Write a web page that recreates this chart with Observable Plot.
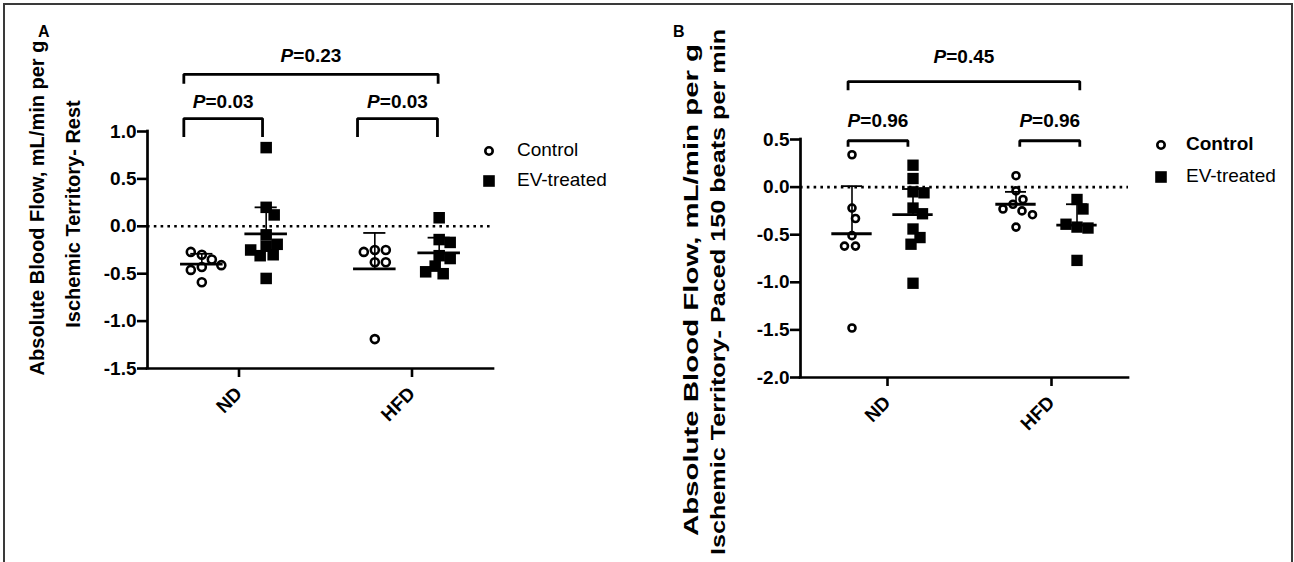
<!DOCTYPE html>
<html><head><meta charset="utf-8">
<script src="https://cdn.jsdelivr.net/npm/d3@7"></script>
<script src="https://cdn.jsdelivr.net/npm/@observablehq/plot@0.6"></script>
<style>
html,body{margin:0;padding:0;background:#fff;}
#root{position:relative;width:1294px;height:562px;overflow:hidden;font-family:"Liberation Sans",Arial,sans-serif;color:#000;}
#frame{position:absolute;left:3px;top:3px;width:1290px;height:600px;border:2px solid #3a3a3a;box-sizing:border-box;}
.panel{position:absolute;top:0;}
.ytitle{position:absolute;white-space:nowrap;font-weight:bold;font-size:20px;line-height:22px;}
.plabel{position:absolute;font-weight:bold;font-size:16px;}
.legtext{position:absolute;font-size:19px;line-height:22px;white-space:nowrap;}
.legsym{position:absolute;}
</style></head><body><div id="root"><div id="frame"></div></div>
<script>
// ---------- data ----------
const diets = ["ND", "HFD"];
const treatments = ["Control", "EV-treated"];

// Panel A: Ischemic territory, rest
const restControlND  = [-0.30, -0.35, -0.27, -0.43, -0.46, -0.41, -0.59];
const restEVND       = [0.83, 0.20, 0.12, -0.09, -0.21, -0.19, -0.30, -0.31, -0.55, -0.25];
const restControlHFD = [-0.25, -0.38, -0.38, -0.27, -0.25, -1.19];
const restEVHFD      = [0.09, -0.14, -0.17, -0.31, -0.34, -0.42, -0.50, -0.48];
const restMean = [-0.40, -0.08, -0.45, -0.28];   // ND-Control, ND-EV, HFD-Control, HFD-EV
const restSD   = [0.11, 0.28, 0.38, 0.16];
const restP    = ["0.03", "0.03", "0.23"];       // ND, HFD, Control ND vs EV HFD
const yTicksA  = [-1.5, -1.0, -0.5, 0, 0.5, 1.0];

// Panel B: Ischemic territory, paced 150 beats per min
const pacedControlND  = [0.34, -0.22, -0.33, -0.51, -0.62, -0.62, -1.48];
const pacedEVND       = [0.23, 0.09, -0.05, -0.06, -0.22, -0.28, -0.44, -0.53, -0.60, -1.01];
const pacedControlHFD = [0.12, -0.04, -0.13, -0.18, -0.25, -0.23, -0.29, -0.42];
const pacedEVHFD      = [-0.13, -0.23, -0.42, -0.43, -0.39, -0.77];
const pacedMean = [-0.49, -0.29, -0.18, -0.40];
const pacedSD   = [0.50, 0.27, 0.13, 0.22];
const pacedP    = ["0.96", "0.96", "0.45"];
const yTicksB   = [-2.0, -1.5, -1.0, -0.5, 0, 0.5];

const titleA = ["Absolute Blood Flow, mL/min per g", "Ischemic Territory- Rest"];
const titleB = ["Absolute Blood Flow, mL/min per g", "Ischemic Territory- Paced 150 beats per min"];

// ---------- layout ----------
const tOffset = {"Control": -0.186, "EV-treated": 0.186};
const panels = [
  {id: "A", left: 0, width: 560, height: 470, ml: 147, mr: 67, mt: 131, mb: 102,
   yDomain: [-1.5, 1.0], yTicks: yTicksA,
   values: [[restControlND, restEVND], [restControlHFD, restEVHFD]],
   mean: restMean, sd: restSD, p: restP, cr: 4.0, sr: 6.5,
   br: {nd: [-0.29, 0.165], hfd: [0.714, 1.176], all: [-0.29, 1.18],
        inY: 1.136, inLeg: 0.942, inText: 1.315, outY: 1.603, outLeg: 1.505, outText: 1.80}},
  {id: "B", left: 640, width: 654, height: 470, ml: 160, mr: 166, mt: 139, mb: 93,
   yDomain: [-2.0, 0.5], yTicks: yTicksB,
   values: [[pacedControlND, pacedEVND], [pacedControlHFD, pacedEVHFD]],
   mean: pacedMean, sd: pacedSD, p: pacedP, cr: 3.5, sr: 6.4,
   br: {nd: [-0.21, 0.155], hfd: [0.837, 1.203], all: [-0.21, 1.203],
        inY: 0.487, inLeg: 0.424, inText: 0.693, outY: 1.108, outLeg: 1.018, outText: 1.37}}
];

// deterministic beeswarm (pixel space) so that the points spread like the reference
function swarm(values, kx, ky, D) {
  const placed = [];
  return values.map(v => {
    const yp = v * ky;
    let off = 0;
    for (let i = 0; i < 400; i++) {
      const cands = i === 0 ? [0] : [i * 0.5, -i * 0.5];
      let found = null;
      for (const s of cands) {
        if (placed.every(p => Math.hypot(p.x - s, p.y - yp) >= D)) { found = s; break; }
      }
      if (found !== null) { off = found; break; }
    }
    placed.push({x: off, y: yp});
    return off / kx;
  });
}

const root = document.getElementById("root");

for (const P of panels) {
  const kx = (P.width - P.ml - P.mr) / 2;
  const ky = (P.height - P.mt - P.mb) / (P.yDomain[1] - P.yDomain[0]);
  const points = [];
  const stats = [];
  diets.forEach((d, di) => {
    treatments.forEach((t, ti) => {
      const vals = P.values[di][ti];
      const offs = swarm(vals, kx, ky, 11);
      const pos = di + tOffset[t];
      vals.forEach((v, k) => points.push({diet: d, treatment: t, value: v, x: pos + offs[k]}));
      const gi = di * 2 + ti;
      stats.push({diet: d, treatment: t, pos, mean: P.mean[gi], top: P.mean[gi] + P.sd[gi]});
    });
  });
  const b = P.br;
  const brackets = [
    {id: "nd", x1: b.nd[0], x2: b.nd[1], y: b.inY, leg: b.inLeg, t: b.inText, p: P.p[0]},
    {id: "hfd", x1: b.hfd[0], x2: b.hfd[1], y: b.inY, leg: b.inLeg, t: b.inText, p: P.p[1]},
    {id: "all", x1: b.all[0], x2: b.all[1], y: b.outY, leg: b.outLeg, t: b.outText, p: P.p[2]}
  ];
  const brPts = brackets.flatMap(r => [
    {id: r.id, x: r.x1, y: r.leg}, {id: r.id, x: r.x1, y: r.y},
    {id: r.id, x: r.x2, y: r.y}, {id: r.id, x: r.x2, y: r.leg}]);

  const hw = 0.123, cw = 0.064;
  const chart = Plot.plot({
    width: P.width, height: P.height,
    marginLeft: P.ml, marginRight: P.mr, marginTop: P.mt, marginBottom: P.mb,
    x: {domain: [-0.5, 1.5]},
    y: {domain: P.yDomain},
    style: {fontFamily: "'Liberation Sans', Arial, sans-serif", fontSize: "19px", fontWeight: "bold", color: "#000", background: "transparent", overflow: "visible"},
    marks: [
      Plot.ruleY([0], {x1: -0.5, x2: 1.5, stroke: "#000", strokeWidth: 2.6, strokeDasharray: "2.6,4.2"}),
      Plot.axisY({ticks: P.yTicks, tickFormat: d => d.toFixed(1), tickSize: 10, tickPadding: 1, strokeWidth: 2.6, label: null, fontSize: 19, fontWeight: "bold"}),
      Plot.axisX({ticks: [0, 1], tickFormat: i => diets[i], tickSize: 9, tickPadding: 13, tickRotate: -45, strokeWidth: 2.6, label: null, fontSize: 19, fontWeight: "bold", dx: 5}),
      Plot.ruleX([-0.5], {y1: P.yDomain[0], y2: P.yDomain[1], stroke: "#000", strokeWidth: 2.7, strokeLinecap: "square"}),
      Plot.ruleY([P.yDomain[0]], {x1: -0.5, x2: 1.5, stroke: "#000", strokeWidth: 2.7, strokeLinecap: "square"}),
      Plot.dot(points.filter(d => d.treatment === "Control"), {x: "x", y: "value", r: P.cr, fill: "#fff", stroke: "#000", strokeWidth: 2.6}),
      Plot.dot(points.filter(d => d.treatment === "EV-treated"), {x: "x", y: "value", r: P.sr, symbol: "square", fill: "#000", stroke: "none"}),
      Plot.ruleX(stats, {x: "pos", y1: "mean", y2: "top", stroke: "#000", strokeWidth: 1.6}),
      Plot.ruleY(stats, {y: "top", x1: d => d.pos - cw, x2: d => d.pos + cw, stroke: "#000", strokeWidth: 1.8}),
      Plot.ruleY(stats, {y: "mean", x1: d => d.pos - hw, x2: d => d.pos + hw, stroke: "#000", strokeWidth: 2.8}),
      Plot.line(brPts, {x: "x", y: "y", z: "id", stroke: "#000", strokeWidth: 2.8, strokeLinejoin: "miter", strokeLinecap: "butt"}),
      Plot.text(brackets, {x: d => (d.x1 + d.x2) / 2, y: "t", text: d => "P=" + d.p, fontSize: 19, fontWeight: "bold", fill: "#000"})
    ]
  });
  // italic "P" in p-value labels
  const ns = "http://www.w3.org/2000/svg";
  chart.querySelectorAll("text").forEach(t => {
    const s = t.textContent;
    if (s.startsWith("P=") && t.children.length === 0) {
      t.textContent = "";
      const a = document.createElementNS(ns, "tspan");
      a.setAttribute("font-style", "italic");
      a.textContent = "P";
      t.appendChild(a);
      t.appendChild(document.createTextNode(s.slice(1)));
    }
  });
  const wrap = document.createElement("div");
  wrap.className = "panel";
  wrap.style.left = P.left + "px";
  wrap.appendChild(chart);
  root.appendChild(wrap);
}

// ---------- panel letters, axis titles, legends ----------
function addText(cls, txt, css) {
  const el = document.createElement("div");
  el.className = cls;
  el.textContent = txt;
  Object.assign(el.style, css);
  root.appendChild(el);
  return el;
}
addText("plabel", "A", {left: "38px", top: "23px"});
addText("plabel", "B", {left: "673px", top: "23px"});

function yTitle(txt, cx, cy, stretch) {
  addText("ytitle", txt, {left: cx + "px", top: cy + "px",
    transform: `translate(-50%,-50%) rotate(-90deg) scaleX(${stretch})`});
}
yTitle(titleA[0], 37, 208, 1.0);
yTitle(titleA[1], 73, 214, 1.0);
yTitle(titleB[0], 691, 290, 1.47);
yTitle(titleB[1], 718, 292, 1.26);

function legend(x, yc, ys, tx, boldControl) {
  const s1 = document.createElementNS("http://www.w3.org/2000/svg", "svg");
  s1.setAttribute("width", 16); s1.setAttribute("height", 16);
  s1.setAttribute("class", "legsym");
  s1.style.left = (x - 8) + "px"; s1.style.top = (yc - 8) + "px";
  s1.innerHTML = '<circle cx="8" cy="8" r="3.7" fill="#fff" stroke="#000" stroke-width="2.6"/>';
  root.appendChild(s1);
  const s2 = document.createElementNS("http://www.w3.org/2000/svg", "svg");
  s2.setAttribute("width", 16); s2.setAttribute("height", 16);
  s2.setAttribute("class", "legsym");
  s2.style.left = (x - 8) + "px"; s2.style.top = (ys - 8) + "px";
  s2.innerHTML = '<rect x="2.2" y="2.2" width="11.6" height="11.6" fill="#000"/>';
  root.appendChild(s2);
  addText("legtext", treatments[0], {left: tx + "px", top: (yc - 12) + "px", fontWeight: boldControl ? "bold" : "normal"});
  addText("legtext", treatments[1], {left: tx + "px", top: (ys - 12) + "px"});
}
legend(489, 150.7, 181, 517, false);
legend(1161, 145, 176.7, 1186, true);
</script></body></html>
